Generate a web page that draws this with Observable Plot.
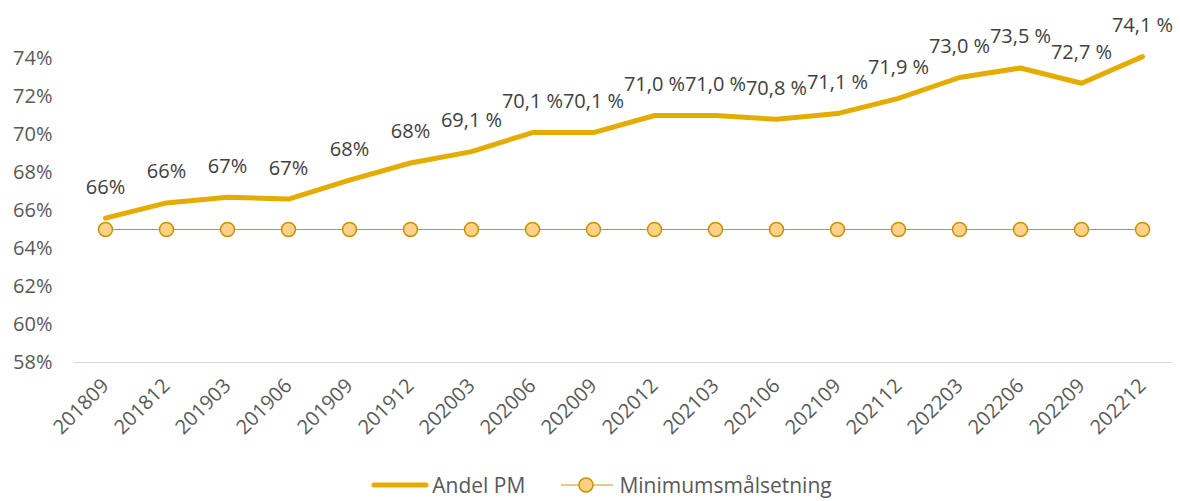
<!DOCTYPE html>
<html>
<head>
<meta charset="utf-8">
<script src="https://cdn.jsdelivr.net/npm/d3@7"></script>
<script src="https://cdn.jsdelivr.net/npm/@observablehq/plot@0.6"></script>
<style>
  html, body { margin: 0; padding: 0; background: #fff; }
  body { width: 1180px; height: 501px; overflow: hidden; font-family: "Open Sans", sans-serif; }
  #legend { display: flex; justify-content: center; align-items: center; height: 30px; margin-top: 18px; padding-left: 22px; font-size: 21px; line-height: 28px; color: #595959; }
  .item { display: flex; align-items: center; }
</style>
</head>
<body>
<div id="chart"></div>
<div id="legend">
  <div class="item" style="margin-right:34px">
    <svg width="60" height="20"><line x1="4" y1="10" x2="56" y2="10" stroke="#E5AC00" stroke-width="5" stroke-linecap="round"/></svg>
    <span style="margin-left:2px">Andel PM</span>
  </div>
  <div class="item">
    <svg width="56" height="20"><line x1="2" y1="10" x2="54" y2="10" stroke="#CC9A06" stroke-width="1.2"/><circle cx="27" cy="10" r="7" fill="#FFD186" stroke="#C89000" stroke-width="1.5"/></svg>
    <span style="margin-left:4px">Minimumsmålsetning</span>
  </div>
</div>
<script>
const periods = ["201809","201812","201903","201906","201909","201912","202003","202006","202009","202012","202103","202106","202109","202112","202203","202206","202209","202212"];
const andelPM = [65.6, 66.4, 66.7, 66.6, 67.6, 68.5, 69.1, 70.1, 70.1, 71.0, 71.0, 70.8, 71.1, 71.9, 73.0, 73.5, 72.7, 74.1];
const labels = ["66%","66%","67%","67%","68%","68%","69,1 %","70,1 %","70,1 %","71,0 %","71,0 %","70,8 %","71,1 %","71,9 %","73,0 %","73,5 %","72,7 %","74,1 %"];
const minimum = 65;
const yTicks = [58, 60, 62, 64, 66, 68, 70, 72, 74];

const data = periods.map((p, i) => ({period: p, value: andelPM[i], label: labels[i], min: minimum}));

const chart = Plot.plot({
  width: 1180,
  height: 452,
  marginLeft: 74,
  marginRight: 8,
  marginTop: 58,
  marginBottom: 90,
  style: {fontFamily: "'Open Sans', sans-serif", fontSize: "20px", background: "#fff"},
  x: {type: "point", domain: periods, padding: 0.5},
  y: {domain: [58, 74]},
  marks: [
    Plot.ruleY([58], {stroke: "#D9D9D9", strokeWidth: 1.2}),
    Plot.axisY({ticks: yTicks, tickFormat: d => d + "%", tickSize: 0, tickPadding: 22, fill: "#595959", fontSize: 20, label: null}),
    Plot.axisX({tickSize: 0, tickRotate: -45, tickPadding: 20, fill: "#595959", fontSize: 20, label: null}),
    Plot.line(data, {x: "period", y: "min", stroke: "#CC9A06", strokeWidth: 1.2}),
    Plot.dot(data, {x: "period", y: "min", r: 7, fill: "#FFD186", stroke: "#C89000", strokeWidth: 1.5}),
    Plot.line(data, {x: "period", y: "value", stroke: "#E5AC00", strokeWidth: 5, strokeLinejoin: "round"}),
    Plot.text(data, {x: "period", y: "value", text: "label", dy: -31, fill: "#404040", fontSize: 20})
  ]
});
document.getElementById("chart").appendChild(chart);
</script>
</body>
</html>
